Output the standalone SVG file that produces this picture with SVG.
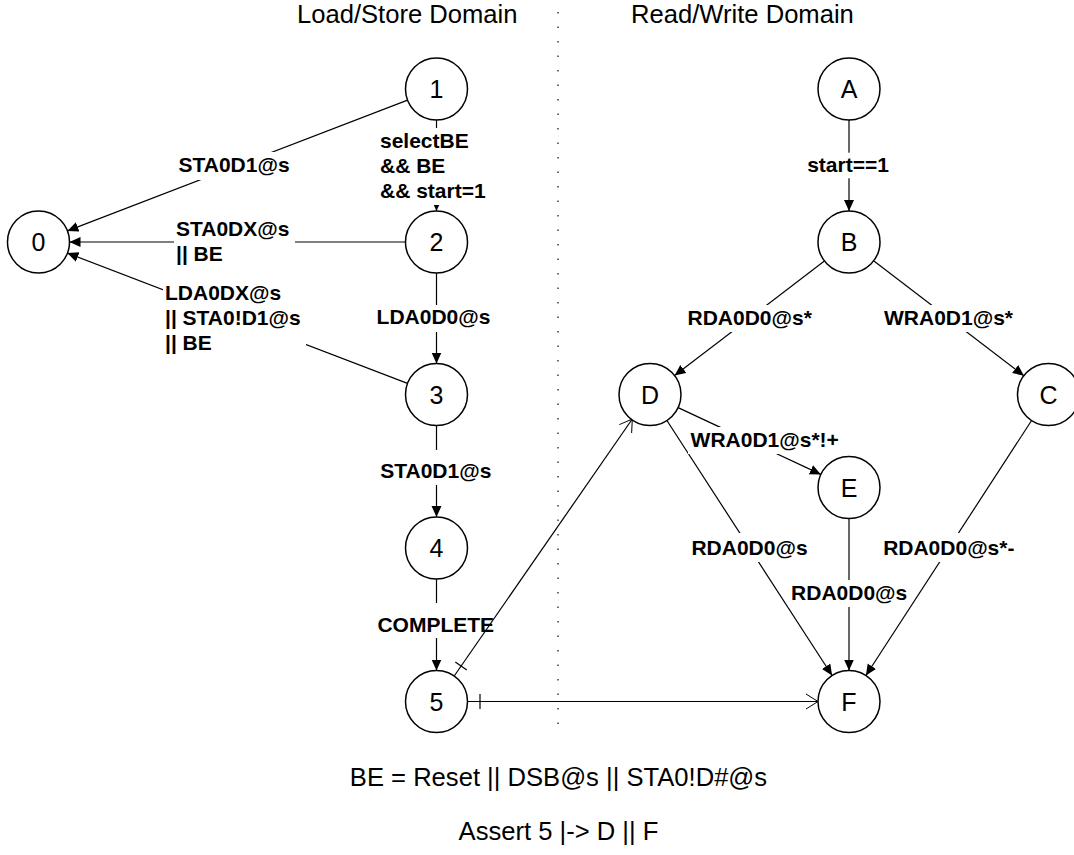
<svg xmlns="http://www.w3.org/2000/svg" width="1074" height="855" viewBox="0 0 1074 855">
<style>
.node circle{fill:#fff;stroke:#000;stroke-width:1.5}
.node text{font-family:"Liberation Sans",Arial,sans-serif;font-size:25px;text-anchor:middle;fill:#000}
.edge{stroke:#000;stroke-width:1.2;fill:none}
.fa{marker-end:url(#fill)}
.oa{marker-end:url(#open)}
.lbg{fill:#fff;stroke:none}
.lbl{font-family:"Liberation Sans",Arial,sans-serif;font-size:21px;font-weight:bold;fill:#000}
.mid{text-anchor:middle}
.big{font-family:"Liberation Sans",Arial,sans-serif;font-size:25.6px;fill:#000}
</style>
<defs>
<marker id="fill" markerUnits="userSpaceOnUse" markerWidth="12" markerHeight="11" refX="11" refY="5" orient="auto">
<path d="M0,0 L11,5 L0,10 Z" fill="#000"/>
</marker>
<marker id="open" markerUnits="userSpaceOnUse" markerWidth="14" markerHeight="18" refX="12" refY="8.5" orient="auto">
<path d="M0,1 L12,8.5 L0,16" fill="none" stroke="#000" stroke-width="1"/>
</marker>
</defs>
<rect width="1074" height="855" fill="#fff"/>

<text class="big" x="297" y="23">Load/Store Domain</text>
<text class="big" x="631" y="23">Read/Write Domain</text>
<line x1="558" y1="12" x2="558" y2="725" stroke="#222" stroke-width="1.3" stroke-dasharray="1.5 13"/>

<g id="connectors">
<line class="edge fa" x1="407.6" y1="100.1" x2="67.4" y2="230.9"/>
<line class="edge fa" x1="406" y1="242" x2="69.5" y2="242"/>
<line class="edge fa" x1="407.5" y1="383.4" x2="67.4" y2="253.1"/>
<line class="edge fa" x1="436.5" y1="120" x2="436.5" y2="211"/>
<line class="edge fa" x1="436.5" y1="273" x2="436.5" y2="363.5"/>
<line class="edge fa" x1="436.5" y1="425.5" x2="436.5" y2="517"/>
<line class="edge fa" x1="436.5" y1="579" x2="436.5" y2="670.5"/>
<line class="edge fa" x1="849" y1="120" x2="849" y2="211"/>
<line class="edge fa" x1="824.4" y1="260.9" x2="674.6" y2="375.6"/>
<line class="edge fa" x1="873.6" y1="260.8" x2="1023.9" y2="375.7"/>
<line class="edge fa" x1="678.1" y1="407.6" x2="820.9" y2="474.4"/>
<line class="edge fa" x1="666.9" y1="420.5" x2="832.1" y2="675.5"/>
<line class="edge fa" x1="849" y1="518.5" x2="849" y2="670.5"/>
<line class="edge fa" x1="1031.6" y1="420.5" x2="865.9" y2="675.5"/>

<g id="labels">
<rect class="lbg" x="175" y="152" width="118" height="28"/>
<text class="lbl mid" x="234" y="172">STA0D1@s</text>
<rect class="lbg" x="378" y="128" width="109" height="77"/>
<text class="lbl" x="380" y="147.5">selectBE</text>
<text class="lbl" x="380" y="172.5">&amp;&amp; BE</text>
<text class="lbl" x="380" y="197.5">&amp;&amp; start=1</text>
<rect class="lbg" x="174" y="216" width="121" height="53"/>
<text class="lbl" x="176" y="236">STA0DX@s</text>
<text class="lbl" x="176" y="261">|| BE</text>
<rect class="lbg" x="163" y="285" width="143" height="72"/>
<text class="lbl" x="165" y="299.5">LDA0DX@s</text>
<text class="lbl" x="165" y="324.5">|| STA0!D1@s</text>
<text class="lbl" x="165" y="349.5">|| BE</text>
<rect class="lbg" x="374" y="305" width="119" height="27"/>
<text class="lbl mid" x="433.5" y="324.3">LDA0D0@s</text>
<rect class="lbg" x="376" y="450" width="119" height="35"/>
<text class="lbl mid" x="435.8" y="478.3">STA0D1@s</text>
<rect class="lbg" x="375" y="603" width="122" height="35"/>
<text class="lbl mid" x="435.8" y="631.7">COMPLETE</text>
<rect class="lbg" x="806" y="152.7" width="84" height="25.6"/>
<text class="lbl mid" x="848" y="171.7">start==1</text>
<rect class="lbg" x="684" y="305" width="131" height="27"/>
<text class="lbl mid" x="749.7" y="325">RDA0D0@s*</text>
<rect class="lbg" x="881" y="305" width="135" height="27"/>
<text class="lbl mid" x="948.5" y="325">WRA0D1@s*</text>
<rect class="lbg" x="688" y="427" width="154" height="27"/>
<text class="lbl mid" x="764.7" y="447">WRA0D1@s*!+</text>
<rect class="lbg" x="689" y="533" width="121" height="29"/>
<text class="lbl mid" x="749.5" y="555">RDA0D0@s</text>
<rect class="lbg" x="788" y="580" width="122" height="27"/>
<text class="lbl mid" x="849.2" y="600">RDA0D0@s</text>
<rect class="lbg" x="880" y="533" width="138" height="29"/>
<text class="lbl mid" x="948.8" y="555">RDA0D0@s*-</text>
</g>

<line class="edge oa" x1="454.2" y1="676" x2="632.3" y2="419"/>
<line class="edge" x1="455.3" y1="662.1" x2="466.8" y2="670.1"/>
<line class="edge oa" x1="467.5" y1="701.5" x2="818" y2="701.5"/>
<line class="edge" x1="480" y1="694" x2="480" y2="709"/>
</g>

<g id="node-0" class="node"><circle cx="38.5" cy="242" r="31"/><text x="38.5" y="251">0</text></g>
<g id="node-1" class="node"><circle cx="436.5" cy="89" r="31"/><text x="436.5" y="98">1</text></g>
<g id="node-2" class="node"><circle cx="436.5" cy="242" r="31"/><text x="436.5" y="251">2</text></g>
<g id="node-3" class="node"><circle cx="436.5" cy="394.5" r="31"/><text x="436.5" y="403.5">3</text></g>
<g id="node-4" class="node"><circle cx="436.5" cy="548" r="31"/><text x="436.5" y="557">4</text></g>
<g id="node-5" class="node"><circle cx="436.5" cy="701.5" r="31"/><text x="436.5" y="710.5">5</text></g>
<g id="node-A" class="node"><circle cx="849" cy="89" r="31"/><text x="849" y="98">A</text></g>
<g id="node-B" class="node"><circle cx="849" cy="242" r="31"/><text x="849" y="251">B</text></g>
<g id="node-D" class="node"><circle cx="650" cy="394.5" r="31"/><text x="650" y="403.5">D</text></g>
<g id="node-C" class="node"><circle cx="1048.5" cy="394.5" r="31"/><text x="1048.5" y="403.5">C</text></g>
<g id="node-E" class="node"><circle cx="849" cy="487.5" r="31"/><text x="849" y="496.5">E</text></g>
<g id="node-F" class="node"><circle cx="849" cy="701.5" r="31"/><text x="849" y="710.5">F</text></g>

<text class="big" x="558.5" y="785.7" text-anchor="middle">BE = Reset || DSB@s || STA0!D#@s</text>
<text class="big" x="558.5" y="839.5" text-anchor="middle">Assert 5 |-&gt; D || F</text>
</svg>
